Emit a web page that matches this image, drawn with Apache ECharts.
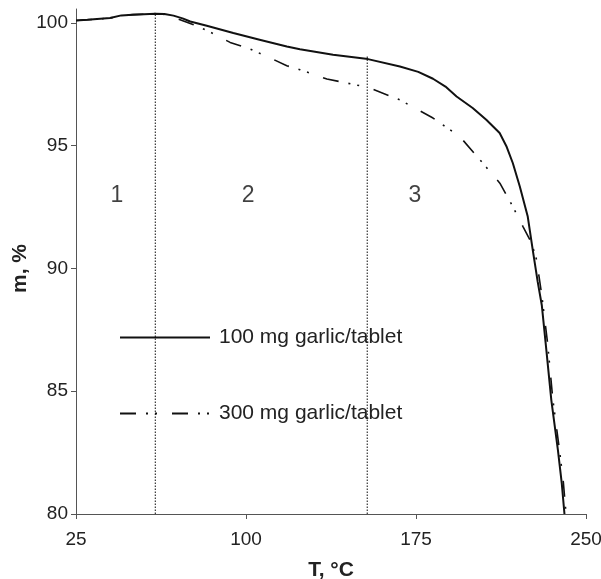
<!DOCTYPE html>
<html>
<head>
<meta charset="utf-8">
<script src="https://cdn.jsdelivr.net/npm/echarts@6/dist/echarts.min.js"></script>
<style>
  html, body { margin: 0; padding: 0; background: #fff; }
  #chart { width: 601px; height: 579px; }
</style>
</head>
<body>
<div id="chart"></div>
<script>
// 100 mg garlic/tablet (solid)
const solidT = [25, 30, 35.7, 40, 45, 50, 55, 60, 64, 68, 72, 75.4, 82.7, 94.4, 106, 118, 123.8, 138.4, 153.8, 167.9, 176, 182.5, 188, 192.9, 200, 206, 211.9, 215, 217.7, 220.8, 224.3, 226.5, 228.7, 230.5, 232.5, 234.7, 237.6, 239.3, 240.5];
const solidM = [100.09, 100.12, 100.16, 100.19, 100.3, 100.33, 100.35, 100.37, 100.36, 100.29, 100.18, 100.05, 99.88, 99.58, 99.31, 99.03, 98.92, 98.7, 98.52, 98.22, 98.0, 97.72, 97.4, 97.0, 96.53, 96.05, 95.51, 94.95, 94.29, 93.33, 92.11, 90.75, 89.45, 88.5, 86.68, 84.64, 82.61, 81.26, 80.0];

// 300 mg garlic/tablet (dash-dot-dot)
const dashT = [25, 30, 35.7, 40, 45, 50, 55, 60, 64, 70, 76, 83.6, 93, 101.8, 109.2, 118, 123.8, 135.7, 153.8, 167.9, 182.5, 194.3, 203.2, 212, 217.7, 222.2, 226, 228.2, 230.5, 233, 235.4, 238.3, 240, 241.2];
const dashM = [100.09, 100.12, 100.16, 100.19, 100.3, 100.33, 100.35, 100.37, 100.34, 100.15, 99.95, 99.65, 99.2, 98.93, 98.63, 98.25, 98.09, 97.71, 97.37, 96.86, 96.12, 95.37, 94.42, 93.47, 92.52, 91.7, 91.03, 90.35, 88.9, 87.0, 84.64, 82.6, 81.3, 80.0];

// stage boundaries (dotted verticals) and stage labels
const boundaryT = [60, 153.5];
const boundaryTop = [100.39, 98.68];
const stageNames = ['1', '2', '3'];
const stageT = [43, 101, 174.5];
const stageM = [92.95, 92.95, 92.95];

const xTicks = [25, 100, 175, 250];
const yTicks = [80, 85, 90, 95, 100];

const font = 'Liberation Sans, Arial, sans-serif';
const ink = '#111';

const zip = (a, b) => a.map((v, i) => [v, b[i]]);

const chart = echarts.init(document.getElementById('chart'));

const boundarySeries = boundaryT.map((t, i) => ({
  type: 'line',
  name: 'boundary' + i,
  data: [[t, 80], [t, boundaryTop[i]]],
  symbol: 'none',
  silent: true,
  lineStyle: { color: '#333', width: 1.2, type: [1.5, 1.5] },
  z: 1
}));

chart.setOption({
  animation: false,
  grid: { left: 76, right: 15, top: 9, bottom: 65, outerBoundsMode: 'none' },
  legend: {
    data: ['100 mg garlic/tablet', '300 mg garlic/tablet'],
    orient: 'vertical',
    left: 119,
    top: 327,
    padding: 0,
    itemWidth: 90,
    itemHeight: 14,
    itemGap: 55,
    itemStyle: { opacity: 0 },
    textStyle: { fontFamily: font, fontSize: 21, color: '#222', lineHeight: 21, padding: [0, 0, 0, 4] }
  },
  xAxis: {
    type: 'value',
    min: xTicks[0],
    max: xTicks[xTicks.length - 1],
    interval: 75,
    name: 'T, °C',
    nameLocation: 'middle',
    nameGap: 46,
    nameMoveOverlap: false,
    nameTextStyle: { fontFamily: font, fontSize: 21, fontWeight: 'bold', color: '#222' },
    axisLine: { lineStyle: { color: '#555', width: 1 } },
    axisTick: { length: 5, lineStyle: { color: '#555' } },
    axisLabel: { fontFamily: font, fontSize: 19, color: '#222', margin: 16 },
    splitLine: { show: false }
  },
  yAxis: {
    type: 'value',
    min: 80,
    max: 100.56,
    interval: 5,
    name: 'm, %',
    nameLocation: 'middle',
    nameGap: 45,
    nameMoveOverlap: false,
    nameTextStyle: { fontFamily: font, fontSize: 21, fontWeight: 'bold', color: '#222', padding: [0, 14, 0, 0] },
    axisLine: { show: true, lineStyle: { color: '#555', width: 1 } },
    axisTick: { show: true, length: 5, customValues: yTicks, lineStyle: { color: '#555' } },
    axisLabel: { fontFamily: font, fontSize: 19, color: '#222', margin: 8, customValues: yTicks },
    splitLine: { show: false }
  },
  series: [
    {
      type: 'line',
      name: '100 mg garlic/tablet',
      data: zip(solidT, solidM),
      symbol: 'none',
      lineStyle: { color: ink, width: 2 },
      itemStyle: { color: ink },
      z: 3
    },
    {
      type: 'line',
      name: '300 mg garlic/tablet',
      data: zip(dashT, dashM),
      symbol: 'none',
      lineStyle: { color: ink, width: 1.6, type: [16, 10, 2, 7, 2, 15] },
      itemStyle: { color: ink },
      z: 2
    },
    ...boundarySeries,
    {
      type: 'scatter',
      name: 'stages',
      data: stageT.map((t, i) => ({ value: [t, stageM[i]], name: stageNames[i] })),
      symbolSize: 0,
      silent: true,
      label: {
        show: true,
        position: 'inside',
        formatter: p => p.name,
        fontFamily: font,
        fontSize: 23,
        color: '#111'
      }
    }
  ]
});
</script>
</body>
</html>
